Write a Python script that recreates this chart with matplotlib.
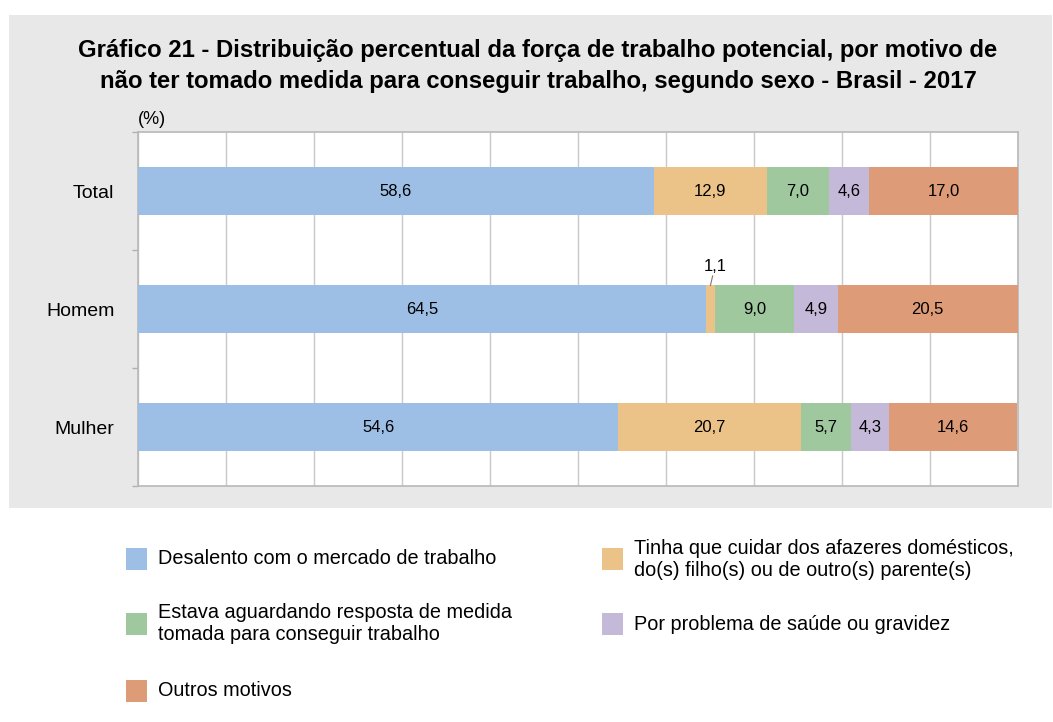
import matplotlib.pyplot as plt
from matplotlib.patches import Rectangle
import numpy as np

plt.rcParams['font.family'] = ['Liberation Sans', 'DejaVu Sans']

categories = ['Total', 'Homem', 'Mulher']
desalento = [58.6, 64.5, 54.6]
afazeres = [12.9, 1.1, 20.7]
aguardando = [7.0, 9.0, 5.7]
saude = [4.6, 4.9, 4.3]
outros = [17.0, 20.5, 14.6]

series_names = ['Desalento com o mercado de trabalho',
                'Tinha que cuidar dos afazeres domésticos,\ndo(s) filho(s) ou de outro(s) parente(s)',
                'Estava aguardando resposta de medida\ntomada para conseguir trabalho',
                'Por problema de saúde ou gravidez',
                'Outros motivos']
colors = ['#9dbfe5', '#ebc388', '#9fc89f', '#c5b9d9', '#de9b78']

series = [desalento, afazeres, aguardando, saude, outros]

fig = plt.figure(figsize=(10.53, 7.22), dpi=100)

# gray panel behind the chart
fig.add_artist(Rectangle((9/1053, 1-508/722), (1052-9)/1053, (508-15)/722,
                         transform=fig.transFigure, facecolor='#e8e8e8',
                         edgecolor='none', zorder=0))

ax = fig.add_axes([138/1053, 1-486/722, (1018-138)/1053, (486-132)/722])
ax.set_facecolor('white')

y = np.arange(len(categories))
left = np.zeros(len(categories))
for vals, c in zip(series, colors):
	bars = ax.barh(y, vals, left=left, height=0.4, color=c, zorder=3)
	for yi, v, l in zip(y, vals, left):
		lbl = '{:.1f}'.format(v).replace('.', ',')
		if v < 2:
			# small segment: label above with leader line
			xm = l + v/2
			ax.plot([xm, xm+0.25], [yi-0.2, yi-0.28], color='#777777', lw=0.8, zorder=4)
			ax.text(xm+0.6, yi-0.3, lbl, ha='center', va='bottom', fontsize=12, zorder=4)
		else:
			ax.text(l + v/2, yi, lbl, ha='center', va='center', fontsize=12, zorder=4)
	left = left + np.array(vals)

ax.set_xlim(0, 100)
ax.set_ylim(2.5, -0.5)
ax.set_xticks(np.arange(0, 101, 10))
ax.set_xticklabels([])
ax.tick_params(axis='x', length=0)
ax.grid(axis='x', color='#c8c8c8', lw=1.0, zorder=1)

ax.set_yticks(y)
ax.set_yticklabels(categories, fontsize=14)
ax.set_yticks([-0.5, 0.5, 1.5, 2.5], minor=True)
ax.tick_params(axis='y', which='major', length=0, pad=17)
ax.tick_params(axis='y', which='minor', length=4, color='#b0b0b0', width=1)

for s in ax.spines.values():
	s.set_color('#b8b8b8')
	s.set_linewidth(1.2)

ax.text(0, 1.01, '(%)', transform=ax.transAxes, ha='left', va='bottom', fontsize=13)

fig.text(538/1053, 1-66/722,
         'Gráfico 21 - Distribuição percentual da força de trabalho potencial, por motivo de\n'
         'não ter tomado medida para conseguir trabalho, segundo sexo - Brasil - 2017',
         ha='center', va='center', fontsize=17.2, fontweight='bold', linespacing=1.45)

# legend, laid out row by row in two columns
leg_x = [126, 602]
leg_y = [559, 624, 691]
for i, (name, c) in enumerate(zip(series_names, colors)):
	px = leg_x[i % 2]
	py = leg_y[i // 2]
	fig.add_artist(Rectangle((px/1053, 1-(py+11)/722), 21/1053, 22/722,
	                         transform=fig.transFigure, facecolor=c, edgecolor='none'))
	fig.text((px+32)/1053, 1-py/722, name, ha='left', va='center',
	         fontsize=14.3, linespacing=1.2)

plt.savefig('out.png', dpi=100)
plt.close()
